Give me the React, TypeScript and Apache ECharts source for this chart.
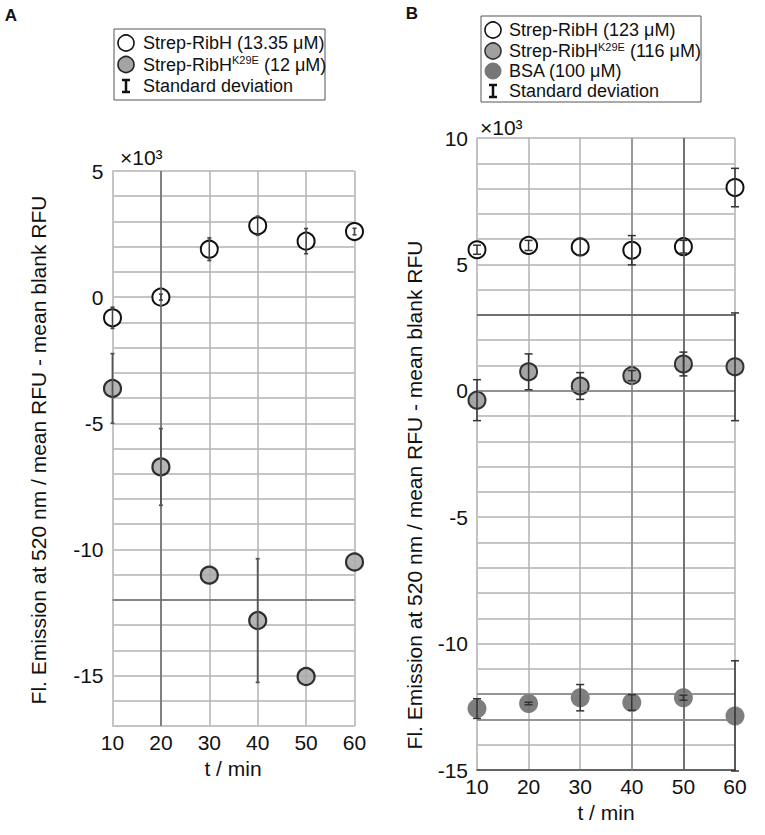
import React, { useEffect, useRef } from "react";
import * as echarts from "echarts";

// time points (min)
const times = [10, 20, 30, 40, 50, 60];
// Panel A values (x10^3 RFU)
const aRibH = [-0.82, 0.0, 1.9, 2.83, 2.22, 2.6];
const aRibHSd = [0.42, 0.12, 0.45, 0.38, 0.5, 0.13];
const aK29E = [-3.62, -6.73, -11.02, -12.82, -15.04, -10.5];
const aK29ESd = [1.38, 1.52, 0, 2.45, 0, 0];
// Panel B values (x10^3 RFU)
const bRibH = [5.58, 5.75, 5.69, 5.56, 5.7, 8.04];
const bRibHSd = [0.18, 0.2, 0.33, 0.58, 0.25, 0.76];
const bK29E = [-0.37, 0.75, 0.19, 0.6, 1.06, 0.95];
const bK29ESd = [0.81, 0.71, 0.53, 0.2, 0.47, 2.13];
const bBSA = [-12.57, -12.37, -12.14, -12.33, -12.14, -12.86];
const bBSASd = [0.39, 0.05, 0.52, 0.31, 0.1, 2.18];

const yTickLabels = [-15, -10, -5, 0, 5, 10];
const xTickLabels = [10, 20, 30, 40, 50, 60];

const FONT = "'Liberation Sans', Arial, sans-serif";
const yTitle = "Fl. Emission at 520 nm / mean RFU - mean blank RFU";
const xTitle = "t / min";

const pts = (vals: number[]) => times.map((t, i) => [t, vals[i]]);
const errs = (vals: number[], sd: number[]) =>
  times.map((t, i) => [t, vals[i] - sd[i], vals[i] + sd[i]]);

const errRender = (cap: number, color: string, width: number) => (params: any, api: any) => {
  const x = api.value(0);
  const lo = api.value(1);
  const hi = api.value(2);
  if (hi - lo <= 0) return null;
  const p1 = api.coord([x, lo]);
  const p2 = api.coord([x, hi]);
  const st = { stroke: color, lineWidth: width };
  return {
    type: "group",
    children: [
      { type: "line", shape: { x1: p1[0], y1: p1[1], x2: p2[0], y2: p2[1] }, style: st },
      { type: "line", shape: { x1: p1[0] - cap, y1: p1[1], x2: p1[0] + cap, y2: p1[1] }, style: st },
      { type: "line", shape: { x1: p2[0] - cap, y1: p2[1], x2: p2[0] + cap, y2: p2[1] }, style: st },
    ],
  };
};

const xAxisBase = (gridIndex: number, axisColor: string) => ({
  type: "value",
  gridIndex,
  min: 10,
  max: 60,
  interval: 10,
  axisLine: { show: true, onZero: false, lineStyle: { color: axisColor, width: 1.5 } },
  axisTick: { show: false },
  axisLabel: {
    fontSize: 21,
    color: "#111",
    fontFamily: FONT,
    margin: 6,
    formatter: (v: number) => (xTickLabels.includes(v) ? String(v) : ""),
  },
  splitLine: { show: true, lineStyle: { color: "#b2b2b2", width: 1.5 } },
});

const yAxisBase = (gridIndex: number, min: number, max: number, axisColor: string) => ({
  type: "value",
  gridIndex,
  min,
  max,
  interval: 1,
  axisLine: { show: true, onZero: false, lineStyle: { color: axisColor, width: 1.5 } },
  axisTick: { show: false },
  axisLabel: {
    fontSize: 21,
    color: "#111",
    fontFamily: FONT,
    margin: 9,
    formatter: (v: number) => (yTickLabels.includes(v) ? String(v) : ""),
  },
  splitLine: { show: true, lineStyle: { color: "#b2b2b2", width: 1.5 } },
});

const darkLines = (xi: number, data: any[]) => ({
  type: "line",
  xAxisIndex: xi,
  yAxisIndex: xi,
  data: [],
  z: 1,
  silent: true,
  markLine: {
    silent: true,
    symbol: ["none", "none"],
    label: { show: false },
    animation: false,
    data,
  },
});

const legendText = (x: number, y: number, text: string) => ({
  type: "text",
  x,
  y,
  style: {
    text,
    fill: "#111",
    font: `18px ${FONT}`,
    fontSize: 18,
    fontFamily: FONT,
    align: "left",
    verticalAlign: "middle",
    textAlign: "left",
    textVerticalAlign: "middle",
    rich: {
      n: { fontSize: 18, fontFamily: FONT, lineHeight: 20, fill: "#111" },
      sup: { fontSize: 11, fontFamily: FONT, lineHeight: 20, verticalAlign: "top", fill: "#111" },
    },
  },
});

const ibeam = (cx: number, cy: number) => ({
  type: "group",
  children: [
    { type: "line", shape: { x1: cx, y1: cy - 6, x2: cx, y2: cy + 6 }, style: { stroke: "#111", lineWidth: 2.5 } },
    { type: "line", shape: { x1: cx - 4, y1: cy - 6, x2: cx + 4, y2: cy - 6 }, style: { stroke: "#111", lineWidth: 2.5 } },
    { type: "line", shape: { x1: cx - 4, y1: cy + 6, x2: cx + 4, y2: cy + 6 }, style: { stroke: "#111", lineWidth: 2.5 } },
  ],
});

const plainText = (x: number, y: number, text: string, size: number, opts: any = {}) => ({
  type: "text",
  x,
  y,
  rotation: opts.rotation || 0,
  style: {
    text,
    fill: "#111",
    font: `${opts.bold ? "bold " : ""}${size}px ${FONT}`,
    align: opts.align || "center",
    verticalAlign: "middle",
    textAlign: opts.align || "center",
    textVerticalAlign: "middle",
  },
});

export default function App() {
  const ref = useRef<HTMLDivElement>(null);
  useEffect(() => {
    if (!ref.current) return;
    const chart = echarts.init(ref.current, undefined, { renderer: "svg" });
    const option: any = {
      animation: false,
      backgroundColor: "#fff",
      grid: [
        { left: 112.5, top: 171, width: 242, height: 555 },
        { left: 477, top: 138, width: 258, height: 632 },
      ],
      xAxis: [xAxisBase(0, "#c4c4c4"), xAxisBase(1, "#444")],
      yAxis: [yAxisBase(0, -17, 5, "#c4c4c4"), yAxisBase(1, -15, 10, "#c0c0c0")],
      series: [
        darkLines(0, [
          { xAxis: 20, lineStyle: { color: "#6e6e6e", width: 1.6, type: "solid" } },
          { yAxis: -12, lineStyle: { color: "#6e6e6e", width: 1.6, type: "solid" } },
        ]),
        darkLines(1, [
          { xAxis: 50, lineStyle: { color: "#5e5e5e", width: 1.6, type: "solid" } },
          { xAxis: 40, lineStyle: { color: "#8a8a8a", width: 1.5, type: "solid" } },
          { yAxis: 3, lineStyle: { color: "#555", width: 1.6, type: "solid" } },
          { yAxis: 0, lineStyle: { color: "#808080", width: 1.5, type: "solid" } },
          { yAxis: -12, lineStyle: { color: "#858585", width: 1.5, type: "solid" } },
          { yAxis: -13, lineStyle: { color: "#858585", width: 1.5, type: "solid" } },
        ]),
        {
          name: "Strep-RibH (13.35 μM)",
          type: "scatter",
          xAxisIndex: 0,
          yAxisIndex: 0,
          data: pts(aRibH),
          symbolSize: 17,
          clip: false,
          z: 3,
          itemStyle: { color: "#fff", borderColor: "#111", borderWidth: 2, opacity: 1 },
        },
        {
          name: "Strep-RibHK29E (12 μM)",
          type: "scatter",
          xAxisIndex: 0,
          yAxisIndex: 0,
          data: pts(aK29E),
          symbolSize: 17,
          clip: false,
          z: 3,
          itemStyle: { color: "#a8a8a8", borderColor: "#111", borderWidth: 2.2, opacity: 0.85 },
        },
        {
          type: "custom",
          xAxisIndex: 0,
          yAxisIndex: 0,
          data: errs(aRibH, aRibHSd),
          encode: { x: 0, y: [1, 2] },
          renderItem: errRender(2, "#444", 1.6),
          z: 5,
          silent: true,
        },
        {
          type: "custom",
          xAxisIndex: 0,
          yAxisIndex: 0,
          data: errs(aK29E, aK29ESd),
          encode: { x: 0, y: [1, 2] },
          renderItem: errRender(2, "#555", 1.8),
          z: 5,
          silent: true,
        },
        {
          name: "Strep-RibH (123 μM)",
          type: "scatter",
          xAxisIndex: 1,
          yAxisIndex: 1,
          data: pts(bRibH),
          symbolSize: 17,
          clip: false,
          z: 3,
          itemStyle: { color: "#fff", borderColor: "#111", borderWidth: 2, opacity: 1 },
        },
        {
          name: "Strep-RibHK29E (116 μM)",
          type: "scatter",
          xAxisIndex: 1,
          yAxisIndex: 1,
          data: pts(bK29E),
          symbolSize: 17,
          clip: false,
          z: 3,
          itemStyle: { color: "#989898", borderColor: "#1a1a1a", borderWidth: 2, opacity: 0.88 },
        },
        {
          name: "BSA (100 μM)",
          type: "scatter",
          xAxisIndex: 1,
          yAxisIndex: 1,
          data: pts(bBSA),
          symbolSize: 19,
          clip: false,
          z: 3,
          itemStyle: { color: "#6c6c6c", opacity: 0.88 },
        },
        {
          type: "custom",
          xAxisIndex: 1,
          yAxisIndex: 1,
          data: errs(bRibH, bRibHSd),
          encode: { x: 0, y: [1, 2] },
          renderItem: errRender(4, "#333", 1.5),
          z: 5,
          silent: true,
        },
        {
          type: "custom",
          xAxisIndex: 1,
          yAxisIndex: 1,
          data: errs(bK29E, bK29ESd),
          encode: { x: 0, y: [1, 2] },
          renderItem: errRender(4, "#333", 1.5),
          z: 5,
          silent: true,
        },
        {
          type: "custom",
          xAxisIndex: 1,
          yAxisIndex: 1,
          data: errs(bBSA, bBSASd),
          encode: { x: 0, y: [1, 2] },
          renderItem: errRender(4, "#333", 1.5),
          z: 5,
          silent: true,
        },
      ],
      graphic: [
        plainText(11, 15, "A", 17, { bold: true }),
        plainText(412, 13, "B", 17, { bold: true }),
        // Legend A
        {
          type: "rect",
          shape: { x: 114, y: 29, width: 211, height: 71 },
          style: { fill: "#fff", stroke: "#555", lineWidth: 1 },
        },
        { type: "circle", shape: { cx: 126, cy: 43, r: 8 }, style: { fill: "#fff", stroke: "#111", lineWidth: 1.6 } },
        { type: "circle", shape: { cx: 126, cy: 64.5, r: 8 }, style: { fill: "#a4a4a4", stroke: "#222", lineWidth: 1.6 } },
        ibeam(126, 86),
        legendText(143, 43, "{n|Strep-RibH (13.35 μM)}"),
        legendText(143, 64.5, "{n|Strep-RibH}{sup|K29E}{n| (12 μM)}"),
        legendText(143, 86, "{n|Standard deviation}"),
        // Legend B
        {
          type: "rect",
          shape: { x: 481, y: 16, width: 220, height: 86 },
          style: { fill: "#fff", stroke: "#555", lineWidth: 1 },
        },
        { type: "circle", shape: { cx: 493, cy: 30, r: 8 }, style: { fill: "#fff", stroke: "#111", lineWidth: 1.6 } },
        { type: "circle", shape: { cx: 493, cy: 51, r: 8 }, style: { fill: "#a0a0a0", stroke: "#333", lineWidth: 1.6 } },
        { type: "circle", shape: { cx: 493, cy: 71, r: 8 }, style: { fill: "#777", stroke: "#777", lineWidth: 1 } },
        ibeam(493, 91),
        legendText(509, 30, "{n|Strep-RibH (123 μM)}"),
        legendText(509, 51, "{n|Strep-RibH}{sup|K29E}{n| (116 μM)}"),
        legendText(509, 71, "{n|BSA (100 μM)}"),
        legendText(509, 91, "{n|Standard deviation}"),
        // x10^3
        plainText(120, 157, "×10³", 21, { align: "left" }),
        plainText(480, 127, "×10³", 21, { align: "left" }),
        // Axis titles
        plainText(38, 450, yTitle, 21, { rotation: Math.PI / 2 }),
        plainText(414, 495, yTitle, 21, { rotation: Math.PI / 2 }),
        plainText(233, 768, xTitle, 21),
        plainText(606, 812, xTitle, 21),
      ],
    };
    chart.setOption(option);
    return () => chart.dispose();
  }, []);
  return (
    <div
      ref={ref}
      style={{ position: "absolute", left: 0, top: 0, width: 765, height: 835, background: "#fff" }}
    />
  );
}
